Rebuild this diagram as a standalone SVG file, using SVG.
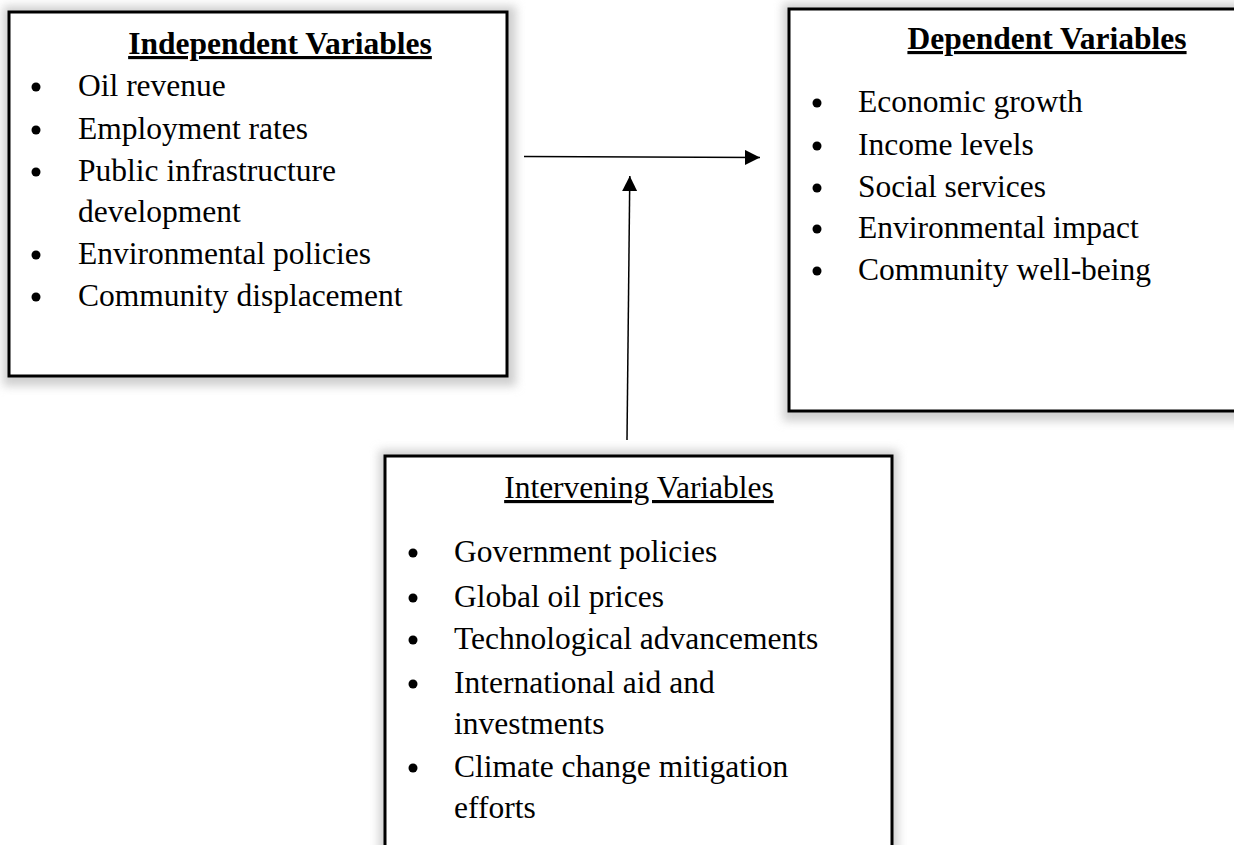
<svg xmlns="http://www.w3.org/2000/svg" width="1234" height="845" viewBox="0 0 1234 845">
  <defs>
    <filter id="soft" x="-10%" y="-10%" width="120%" height="120%">
      <feGaussianBlur stdDeviation="5"/>
    </filter>
    <marker id="head" markerWidth="16" markerHeight="16" refX="15" refY="7.5" orient="auto" markerUnits="userSpaceOnUse">
      <path d="M0,0 L15,7.5 L0,15 Z" fill="#000"/>
    </marker>
    <style>
      .shadow { fill: #cfcfcf; filter: url(#soft); }
      .box { fill: #fff; stroke: #000; stroke-width: 3; }
      .title { font-family: "Liberation Serif", "Times New Roman", serif; font-size: 31.5px; fill: #000; text-decoration: underline; }
      .bold { font-weight: bold; }
      .item { font-family: "Liberation Serif", "Times New Roman", serif; font-size: 31.5px; fill: #000; }
      .dot { fill: #000; }
      .conn { stroke: #000; stroke-width: 1.5; fill: none; marker-end: url(#head); }
    </style>
  </defs>
  <rect width="1234" height="845" fill="#fff"/>

  <!-- Independent variables -->
  <g id="independent">
    <rect class="shadow" x="3" y="6" width="513" height="380"/>
    <rect class="box" x="9" y="12" width="498" height="364"/>
    <text class="title bold" x="280" y="54" text-anchor="middle">Independent Variables</text>
    <circle class="dot" cx="36" cy="87" r="4.5"/>
    <text class="item" x="78" y="96">Oil revenue</text>
    <circle class="dot" cx="36" cy="130" r="4.5"/>
    <text class="item" x="78" y="139">Employment rates</text>
    <circle class="dot" cx="36" cy="172" r="4.5"/>
    <text class="item" x="78" y="181">Public infrastructure</text>
    <text class="item" x="78" y="222">development</text>
    <circle class="dot" cx="36" cy="255" r="4.5"/>
    <text class="item" x="78" y="264">Environmental policies</text>
    <circle class="dot" cx="36" cy="297" r="4.5"/>
    <text class="item" x="78" y="306">Community displacement</text>
  </g>

  <!-- Dependent variables -->
  <g id="dependent">
    <rect class="shadow" x="783" y="3" width="462" height="418"/>
    <rect class="box" x="789" y="9" width="460" height="402"/>
    <text class="title bold" x="1047" y="49" text-anchor="middle">Dependent Variables</text>
    <circle class="dot" cx="817" cy="103" r="4.5"/>
    <text class="item" x="858" y="112">Economic growth</text>
    <circle class="dot" cx="817" cy="146" r="4.5"/>
    <text class="item" x="858" y="155">Income levels</text>
    <circle class="dot" cx="817" cy="188" r="4.5"/>
    <text class="item" x="858" y="197">Social services</text>
    <circle class="dot" cx="817" cy="229" r="4.5"/>
    <text class="item" x="858" y="238">Environmental impact</text>
    <circle class="dot" cx="817" cy="271" r="4.5"/>
    <text class="item" x="858" y="280">Community well-being</text>
  </g>

  <!-- Intervening variables -->
  <g id="intervening">
    <rect class="shadow" x="379" y="450" width="519" height="412"/>
    <rect class="box" x="385" y="456" width="507" height="400"/>
    <text class="title" x="639" y="498" text-anchor="middle">Intervening Variables</text>
    <circle class="dot" cx="413" cy="553" r="4.5"/>
    <text class="item" x="454" y="562">Government policies</text>
    <circle class="dot" cx="413" cy="598" r="4.5"/>
    <text class="item" x="454" y="607">Global oil prices</text>
    <circle class="dot" cx="413" cy="640" r="4.5"/>
    <text class="item" x="454" y="649">Technological advancements</text>
    <circle class="dot" cx="413" cy="684" r="4.5"/>
    <text class="item" x="454" y="693">International aid and</text>
    <text class="item" x="454" y="734">investments</text>
    <circle class="dot" cx="413" cy="768" r="4.5"/>
    <text class="item" x="454" y="777">Climate change mitigation</text>
    <text class="item" x="454" y="818">efforts</text>
  </g>

  <!-- Connectors -->
  <g id="connectors">
    <line class="conn" x1="524" y1="156.5" x2="760" y2="157.5"/>
    <line class="conn" x1="627" y1="440" x2="629.8" y2="176"/>
  </g>
</svg>
